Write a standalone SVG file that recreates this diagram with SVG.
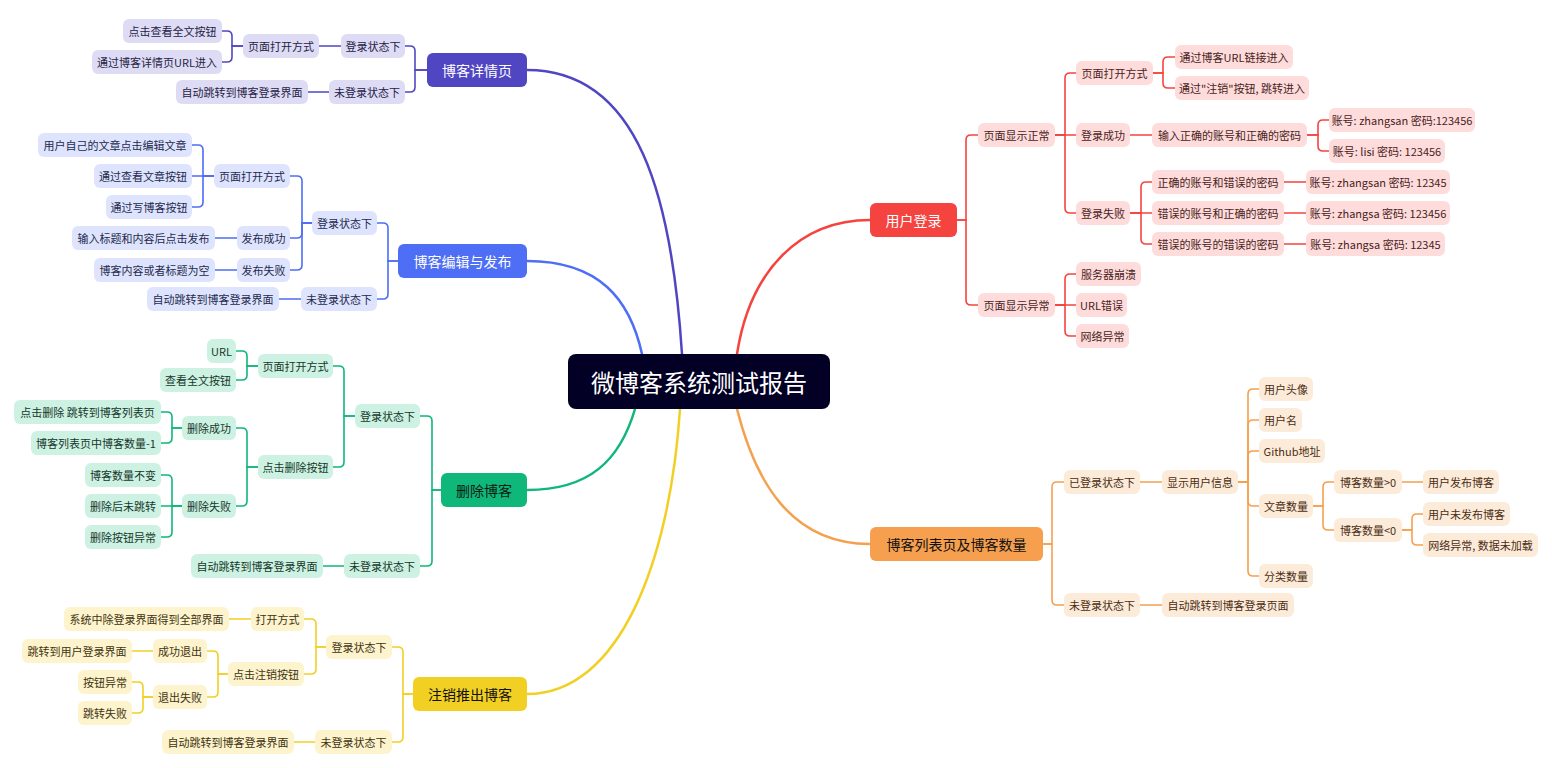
<svg xmlns="http://www.w3.org/2000/svg" width="1552" height="768" viewBox="0 0 1552 768">
<style>
text{font-family:"Noto Sans CJK SC","Noto Sans",sans-serif;font-size:11px;text-anchor:middle;dominant-baseline:central}
.n rect{rx:6;ry:6}
.m text{font-size:14px}
.c{fill:none;stroke-width:1.6;stroke-linecap:round}
.mc{fill:none;stroke-width:2.5;stroke-linecap:round}
.pu rect{fill:#dedcf4}.pu text{fill:#262246}
.bl rect{fill:#dee4fd}.bl text{fill:#1f2a4d}
.gr rect{fill:#cdf1e2}.gr text{fill:#16382a}
.ye rect{fill:#fdf3cd}.ye text{fill:#3d3412}
.rd rect{fill:#fddcdb}.rd text{fill:#4a1c1b}
.or rect{fill:#fdebda}.or text{fill:#4a2d12}
.m.pu rect{fill:#5046c2}.m.pu text{fill:#fff}
.m.bl rect{fill:#4d6ef5}.m.bl text{fill:#fff}
.m.gr rect{fill:#10b77a}.m.gr text{fill:#0b1a12}
.m.ye rect{fill:#f2cf23}.m.ye text{fill:#111}
.m.rd rect{fill:#f5443f}.m.rd text{fill:#fff}
.m.or rect{fill:#f59f4f}.m.or text{fill:#111}
.spu{stroke:#5046c2}.sbl{stroke:#4d6ef5}.sgr{stroke:#10b77a}.sye{stroke:#f2cf23}.srd{stroke:#f5443f}.sor{stroke:#f5a04f}
</style>
<g id="connectors">
<path class="mc spu" d="M527,70 C640,70 672,200 682,354"/>
<path class="mc sbl" d="M527,261 C600,261 630,300 642,354"/>
<path class="mc srd" d="M737,354 C750,270 800,220 870,220"/>
<path class="mc sgr" d="M635,409 C620,460 590,490 527,490"/>
<path class="mc sye" d="M680,409 C670,560 620,694 527,694"/>
<path class="mc sor" d="M737,409 C755,480 790,544 870,544"/>
<g class="c spu">
<path d="M427,70 H415 V51 Q415,46 410,46 H405"/>
<path d="M427,70 H415 V87 Q415,92 410,92 H405"/>
<path d="M341,46 H319"/>
<path d="M243,46 H232 V36 Q232,31 227,31 H222"/>
<path d="M243,46 H232 V57 Q232,62 227,62 H222"/>
<path d="M329,92 H308"/>
</g>
<g class="c sbl">
<path d="M398,261 H388 V228 Q388,223 383,223 H377"/>
<path d="M398,261 H388 V294 Q388,299 383,299 H377"/>
<path d="M312,223 H302 V181 Q302,176 297,176 H290"/>
<path d="M312,223 H302 V233 Q302,238 297,238 H290"/>
<path d="M312,223 H302 V265 Q302,270 297,270 H290"/>
<path d="M214,176 H203 V150 Q203,145 198,145 H192"/>
<path d="M214,176 H192"/>
<path d="M214,176 H203 V202 Q203,207 198,207 H192"/>
<path d="M237,238 H215"/>
<path d="M237,270 H215"/>
<path d="M301,299 H279"/>
</g>
<g class="c sgr">
<path d="M441,490 H432 V421 Q432,416 427,416 H420"/>
<path d="M441,490 H432 V561 Q432,566 427,566 H420"/>
<path d="M355,416 H344 V371 Q344,366 339,366 H333"/>
<path d="M355,416 H344 V462 Q344,467 339,467 H333"/>
<path d="M258,366 H247 V356 Q247,351 242,351 H236"/>
<path d="M258,366 H247 V375 Q247,380 242,380 H236"/>
<path d="M258,467 H247 V433 Q247,428 242,428 H236"/>
<path d="M258,467 H247 V501 Q247,506 242,506 H236"/>
<path d="M182,428 H172 V417 Q172,412 167,412 H161"/>
<path d="M182,428 H172 V438 Q172,443 167,443 H161"/>
<path d="M182,506 H172 V480 Q172,475 167,475 H161"/>
<path d="M182,506 H161"/>
<path d="M182,506 H172 V532 Q172,537 167,537 H161"/>
<path d="M344,566 H323"/>
</g>
<g class="c sye">
<path d="M413,694 H403 V652 Q403,647 398,647 H392"/>
<path d="M413,694 H403 V737 Q403,742 398,742 H392"/>
<path d="M326,647 H316 V624 Q316,619 311,619 H304"/>
<path d="M326,647 H316 V669 Q316,674 311,674 H304"/>
<path d="M251,619 H229"/>
<path d="M228,674 H218 V656 Q218,651 213,651 H207"/>
<path d="M228,674 H218 V692 Q218,697 213,697 H207"/>
<path d="M153,651 H132"/>
<path d="M153,697 H143 V687 Q143,682 138,682 H132"/>
<path d="M153,697 H143 V708 Q143,713 138,713 H132"/>
<path d="M315,742 H294"/>
</g>
<g class="c srd">
<path d="M957,220 H966 V140 Q966,135 971,135 H978"/>
<path d="M957,220 H966 V300 Q966,305 971,305 H978"/>
<path d="M1055,135 H1065 V78 Q1065,73 1070,73 H1076"/>
<path d="M1055,135 H1076"/>
<path d="M1055,135 H1065 V208 Q1065,213 1070,213 H1076"/>
<path d="M1153,73 H1163 V62 Q1163,57 1168,57 H1175"/>
<path d="M1153,73 H1163 V83 Q1163,88 1168,88 H1175"/>
<path d="M1130,135 H1152"/>
<path d="M1307,135 H1318 V125 Q1318,120 1323,120 H1329"/>
<path d="M1307,135 H1318 V146 Q1318,151 1323,151 H1329"/>
<path d="M1130,213 H1141 V187 Q1141,182 1146,182 H1152"/>
<path d="M1130,213 H1152"/>
<path d="M1130,213 H1141 V239 Q1141,244 1146,244 H1152"/>
<path d="M1284,182 H1306"/>
<path d="M1284,213 H1306"/>
<path d="M1284,244 H1306"/>
<path d="M1055,305 H1065 V279 Q1065,274 1070,274 H1076"/>
<path d="M1055,305 H1076"/>
<path d="M1055,305 H1065 V331 Q1065,336 1070,336 H1076"/>
</g>
<g class="c sor">
<path d="M1043,544 H1052 V487 Q1052,482 1057,482 H1064"/>
<path d="M1043,544 H1052 V600 Q1052,605 1057,605 H1064"/>
<path d="M1140,482 H1162"/>
<path d="M1238,482 H1248 V394 Q1248,389 1253,389 H1259"/>
<path d="M1238,482 H1248 V425 Q1248,420 1253,420 H1259"/>
<path d="M1238,482 H1248 V456 Q1248,451 1253,451 H1259"/>
<path d="M1238,482 H1248 V501 Q1248,506 1253,506 H1259"/>
<path d="M1238,482 H1248 V571 Q1248,576 1253,576 H1259"/>
<path d="M1313,506 H1323 V487 Q1323,482 1328,482 H1334"/>
<path d="M1313,506 H1323 V525 Q1323,530 1328,530 H1334"/>
<path d="M1402,482 H1423"/>
<path d="M1402,530 H1412 V519 Q1412,514 1417,514 H1423"/>
<path d="M1402,530 H1412 V540 Q1412,545 1417,545 H1423"/>
<path d="M1140,605 H1162"/>
</g>
</g>
<g id="root"><rect x="568" y="354" width="262" height="55" rx="8" fill="#020024"/><text x="699" y="381.5" style="font-size:24px;fill:#fff">微博客系统测试报告</text></g>
<g id="p0" class="n m pu"><rect x="427" y="53" width="100" height="34"/><text x="477" y="70">博客详情页</text></g>
<g id="p1" class="n pu"><rect x="341" y="34" width="64" height="24"/><text x="373" y="46">登录状态下</text></g>
<g id="p2" class="n pu"><rect x="243" y="34" width="76" height="24"/><text x="281" y="46">页面打开方式</text></g>
<g id="p3" class="n pu"><rect x="123" y="19" width="99" height="24"/><text x="172.5" y="31">点击查看全文按钮</text></g>
<g id="p4" class="n pu"><rect x="92" y="50" width="130" height="24"/><text x="157" y="62">通过博客详情页URL进入</text></g>
<g id="p5" class="n pu"><rect x="329" y="80" width="76" height="24"/><text x="367" y="92">未登录状态下</text></g>
<g id="p6" class="n pu"><rect x="176" y="80" width="132" height="24"/><text x="242" y="92">自动跳转到博客登录界面</text></g>
<g id="b0" class="n m bl"><rect x="398" y="244" width="129" height="34"/><text x="462.5" y="261">博客编辑与发布</text></g>
<g id="b1" class="n bl"><rect x="312" y="211" width="65" height="24"/><text x="344.5" y="223">登录状态下</text></g>
<g id="b2" class="n bl"><rect x="214" y="164" width="76" height="24"/><text x="252" y="176">页面打开方式</text></g>
<g id="b3" class="n bl"><rect x="38" y="133" width="154" height="24"/><text x="115" y="145">用户自己的文章点击编辑文章</text></g>
<g id="b4" class="n bl"><rect x="94" y="164" width="98" height="24"/><text x="143" y="176">通过查看文章按钮</text></g>
<g id="b5" class="n bl"><rect x="106" y="195" width="86" height="24"/><text x="149" y="207">通过写博客按钮</text></g>
<g id="b6" class="n bl"><rect x="237" y="226" width="53" height="24"/><text x="263.5" y="238">发布成功</text></g>
<g id="b7" class="n bl"><rect x="72" y="226" width="143" height="24"/><text x="143.5" y="238">输入标题和内容后点击发布</text></g>
<g id="b8" class="n bl"><rect x="237" y="258" width="53" height="24"/><text x="263.5" y="270">发布失败</text></g>
<g id="b9" class="n bl"><rect x="94" y="258" width="121" height="24"/><text x="154.5" y="270">博客内容或者标题为空</text></g>
<g id="b10" class="n bl"><rect x="301" y="287" width="76" height="24"/><text x="339" y="299">未登录状态下</text></g>
<g id="b11" class="n bl"><rect x="147" y="287" width="132" height="24"/><text x="213" y="299">自动跳转到博客登录界面</text></g>
<g id="g0" class="n m gr"><rect x="441" y="473" width="86" height="34"/><text x="484" y="490">删除博客</text></g>
<g id="g1" class="n gr"><rect x="355" y="404" width="65" height="24"/><text x="387.5" y="416">登录状态下</text></g>
<g id="g2" class="n gr"><rect x="258" y="354" width="75" height="24"/><text x="295.5" y="366">页面打开方式</text></g>
<g id="g3" class="n gr"><rect x="207" y="339" width="29" height="24"/><text x="221.5" y="351">URL</text></g>
<g id="g4" class="n gr"><rect x="160" y="368" width="76" height="24"/><text x="198" y="380">查看全文按钮</text></g>
<g id="g5" class="n gr"><rect x="258" y="455" width="75" height="24"/><text x="295.5" y="467">点击删除按钮</text></g>
<g id="g6" class="n gr"><rect x="182" y="416" width="54" height="24"/><text x="209" y="428">删除成功</text></g>
<g id="g7" class="n gr"><rect x="14" y="400" width="147" height="24"/><text x="87.5" y="412">点击删除 跳转到博客列表页</text></g>
<g id="g8" class="n gr"><rect x="31" y="431" width="130" height="24"/><text x="96" y="443">博客列表页中博客数量-1</text></g>
<g id="g9" class="n gr"><rect x="182" y="494" width="54" height="24"/><text x="209" y="506">删除失败</text></g>
<g id="g10" class="n gr"><rect x="85" y="463" width="76" height="24"/><text x="123" y="475">博客数量不变</text></g>
<g id="g11" class="n gr"><rect x="85" y="494" width="76" height="24"/><text x="123" y="506">删除后未跳转</text></g>
<g id="g12" class="n gr"><rect x="85" y="525" width="76" height="24"/><text x="123" y="537">删除按钮异常</text></g>
<g id="g13" class="n gr"><rect x="344" y="554" width="76" height="24"/><text x="382" y="566">未登录状态下</text></g>
<g id="g14" class="n gr"><rect x="191" y="554" width="132" height="24"/><text x="257" y="566">自动跳转到博客登录界面</text></g>
<g id="y0" class="n m ye"><rect x="413" y="677" width="114" height="34"/><text x="470" y="694">注销推出博客</text></g>
<g id="y1" class="n ye"><rect x="326" y="635" width="66" height="24"/><text x="359" y="647">登录状态下</text></g>
<g id="y2" class="n ye"><rect x="251" y="607" width="53" height="24"/><text x="277.5" y="619">打开方式</text></g>
<g id="y3" class="n ye"><rect x="64" y="607" width="165" height="24"/><text x="146.5" y="619">系统中除登录界面得到全部界面</text></g>
<g id="y4" class="n ye"><rect x="228" y="662" width="76" height="24"/><text x="266" y="674">点击注销按钮</text></g>
<g id="y5" class="n ye"><rect x="153" y="639" width="54" height="24"/><text x="180" y="651">成功退出</text></g>
<g id="y6" class="n ye"><rect x="22" y="639" width="110" height="24"/><text x="77" y="651">跳转到用户登录界面</text></g>
<g id="y7" class="n ye"><rect x="153" y="685" width="54" height="24"/><text x="180" y="697">退出失败</text></g>
<g id="y8" class="n ye"><rect x="78" y="670" width="54" height="24"/><text x="105" y="682">按钮异常</text></g>
<g id="y9" class="n ye"><rect x="78" y="701" width="54" height="24"/><text x="105" y="713">跳转失败</text></g>
<g id="y10" class="n ye"><rect x="315" y="730" width="77" height="24"/><text x="353.5" y="742">未登录状态下</text></g>
<g id="y11" class="n ye"><rect x="162" y="730" width="132" height="24"/><text x="228" y="742">自动跳转到博客登录界面</text></g>
<g id="r0" class="n m rd"><rect x="870" y="203" width="87" height="34"/><text x="913.5" y="220">用户登录</text></g>
<g id="r1" class="n rd"><rect x="978" y="123" width="77" height="24"/><text x="1016.5" y="135">页面显示正常</text></g>
<g id="r2" class="n rd"><rect x="1076" y="61" width="77" height="24"/><text x="1114.5" y="73">页面打开方式</text></g>
<g id="r3" class="n rd"><rect x="1175" y="45" width="118" height="24"/><text x="1234" y="57">通过博客URL链接进入</text></g>
<g id="r4" class="n rd"><rect x="1175" y="76" width="134" height="24"/><text x="1242" y="88">通过"注销"按钮, 跳转进入</text></g>
<g id="r5" class="n rd"><rect x="1076" y="123" width="54" height="24"/><text x="1103" y="135">登录成功</text></g>
<g id="r6" class="n rd"><rect x="1152" y="123" width="155" height="24"/><text x="1229.5" y="135">输入正确的账号和正确的密码</text></g>
<g id="r7" class="n rd"><rect x="1329" y="108" width="146" height="24"/><text x="1402" y="120">账号: zhangsan 密码:123456</text></g>
<g id="r8" class="n rd"><rect x="1329" y="139" width="116" height="24"/><text x="1387" y="151">账号: lisi 密码: 123456</text></g>
<g id="r9" class="n rd"><rect x="1076" y="201" width="54" height="24"/><text x="1103" y="213">登录失败</text></g>
<g id="r10" class="n rd"><rect x="1152" y="170" width="132" height="24"/><text x="1218" y="182">正确的账号和错误的密码</text></g>
<g id="r11" class="n rd"><rect x="1152" y="201" width="132" height="24"/><text x="1218" y="213">错误的账号和正确的密码</text></g>
<g id="r12" class="n rd"><rect x="1152" y="232" width="132" height="24"/><text x="1218" y="244">错误的账号的错误的密码</text></g>
<g id="r13" class="n rd"><rect x="1306" y="170" width="144" height="24"/><text x="1378" y="182">账号: zhangsan 密码: 12345</text></g>
<g id="r14" class="n rd"><rect x="1306" y="201" width="144" height="24"/><text x="1378" y="213">账号: zhangsa 密码: 123456</text></g>
<g id="r15" class="n rd"><rect x="1306" y="232" width="139" height="24"/><text x="1375.5" y="244">账号: zhangsa 密码: 12345</text></g>
<g id="r16" class="n rd"><rect x="978" y="293" width="77" height="24"/><text x="1016.5" y="305">页面显示异常</text></g>
<g id="r17" class="n rd"><rect x="1076" y="262" width="65" height="24"/><text x="1108.5" y="274">服务器崩溃</text></g>
<g id="r18" class="n rd"><rect x="1076" y="293" width="51" height="24"/><text x="1101.5" y="305">URL错误</text></g>
<g id="r19" class="n rd"><rect x="1076" y="324" width="53" height="24"/><text x="1102.5" y="336">网络异常</text></g>
<g id="o0" class="n m or"><rect x="870" y="527" width="173" height="34"/><text x="956.5" y="544">博客列表页及博客数量</text></g>
<g id="o1" class="n or"><rect x="1064" y="470" width="76" height="24"/><text x="1102" y="482">已登录状态下</text></g>
<g id="o2" class="n or"><rect x="1162" y="470" width="76" height="24"/><text x="1200" y="482">显示用户信息</text></g>
<g id="o3" class="n or"><rect x="1259" y="377" width="54" height="24"/><text x="1286" y="389">用户头像</text></g>
<g id="o4" class="n or"><rect x="1259" y="408" width="43" height="24"/><text x="1280.5" y="420">用户名</text></g>
<g id="o5" class="n or"><rect x="1259" y="439" width="66" height="24"/><text x="1292" y="451">Github地址</text></g>
<g id="o6" class="n or"><rect x="1259" y="494" width="54" height="24"/><text x="1286" y="506">文章数量</text></g>
<g id="o7" class="n or"><rect x="1259" y="564" width="54" height="24"/><text x="1286" y="576">分类数量</text></g>
<g id="o8" class="n or"><rect x="1334" y="470" width="68" height="24"/><text x="1368" y="482">博客数量&gt;0</text></g>
<g id="o9" class="n or"><rect x="1334" y="518" width="68" height="24"/><text x="1368" y="530">博客数量&lt;0</text></g>
<g id="o10" class="n or"><rect x="1423" y="470" width="76" height="24"/><text x="1461" y="482">用户发布博客</text></g>
<g id="o11" class="n or"><rect x="1423" y="502" width="87" height="24"/><text x="1466.5" y="514">用户未发布博客</text></g>
<g id="o12" class="n or"><rect x="1423" y="533" width="115" height="24"/><text x="1480.5" y="545">网络异常, 数据未加载</text></g>
<g id="o13" class="n or"><rect x="1064" y="593" width="76" height="24"/><text x="1102" y="605">未登录状态下</text></g>
<g id="o14" class="n or"><rect x="1162" y="593" width="132" height="24"/><text x="1228" y="605">自动跳转到博客登录页面</text></g>
</svg>
